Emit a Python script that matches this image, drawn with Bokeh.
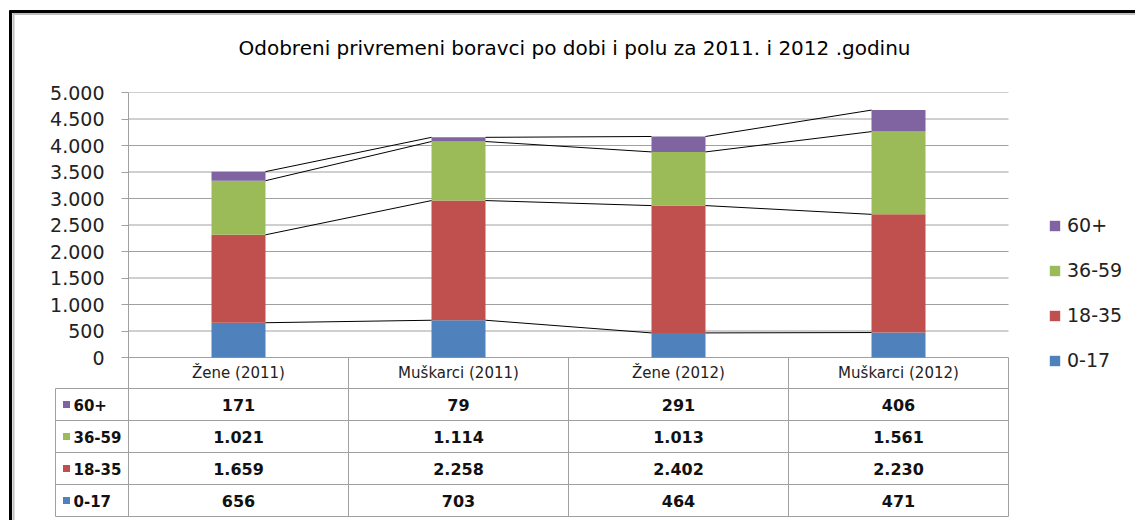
from bokeh.plotting import figure
from bokeh.models import Range1d, FixedTicker, Legend, LegendItem
from bokeh.core.properties import value
from bokeh.embed import file_html
from bokeh.resources import INLINE

# ---------------- data ----------------
categories = ["Žene (2011)", "Muškarci (2011)", "Žene (2012)", "Muškarci (2012)"]
age_groups = ["0-17", "18-35", "36-59", "60+"]
v_0_17 = [656, 703, 464, 471]
v_18_35 = [1659, 2258, 2402, 2230]
v_36_59 = [1021, 1114, 1013, 1561]
v_60 = [171, 79, 291, 406]
y_ticks = [0, 500, 1000, 1500, 2000, 2500, 3000, 3500, 4000, 4500, 5000]
y_tick_labels = ["0", "500", "1.000", "1.500", "2.000", "2.500", "3.000",
                 "3.500", "4.000", "4.500", "5.000"]
colors = ["#4F81BD", "#C0504D", "#9BBB59", "#8064A2"]
title_text = "Odobreni privremeni boravci po dobi i polu za 2011. i 2012 .godinu"

series = [v_0_17, v_18_35, v_36_59, v_60]

# ---------------- layout ----------------
W, H = 1135, 520
CAT_PX = 220
B_LEFT, B_TOP, B_BOTTOM = 128, 92, 4
FRAME_W = W - B_LEFT
FRAME_H = H - B_TOP - B_BOTTOM
X_MIN, X_MAX = 0, FRAME_W / CAT_PX
Y_MIN, Y_MAX = -3000, 5000
FL, FT = B_LEFT, B_TOP  # px of frame left/top


def px2x(px):
    return X_MIN + (px - FL) / FRAME_W * (X_MAX - X_MIN)


def py2y(py):
    return Y_MAX - (py - FT) / FRAME_H * (Y_MAX - Y_MIN)


p = figure(frame_width=FRAME_W, frame_height=FRAME_H,
           min_border_left=B_LEFT, min_border_right=0,
           min_border_top=B_TOP, min_border_bottom=B_BOTTOM,
           x_range=Range1d(X_MIN, X_MAX), y_range=Range1d(Y_MIN, Y_MAX),
           x_axis_location=None, output_backend="svg", toolbar_location=None,
           title=title_text)
p.outline_line_color = None
p.background_fill_color = "white"
p.border_fill_color = "white"

p.title.align = "left"
p.title.offset = 110
p.title.standoff = 66
p.title.text_font = "DejaVu Sans"
p.title.text_font_size = "20px"
p.title.text_font_style = "normal"
p.title.text_color = "#000000"

GRAY = "#A0A0A0"
yax = p.yaxis[0]
yax.ticker = FixedTicker(ticks=y_ticks)
yax.major_label_overrides = {t: l for t, l in zip(y_ticks, y_tick_labels)}
yax.minor_tick_line_color = None
yax.major_tick_in = 0
yax.major_tick_out = 7
yax.major_tick_line_color = GRAY
yax.axis_line_color = GRAY
yax.major_label_standoff = 17
yax.major_label_text_font = "DejaVu Sans"
yax.major_label_text_font_size = "19px"
yax.major_label_text_color = "#222222"
p.xgrid.visible = False
p.ygrid.visible = False

n = len(categories)
# gridlines over the plot area only
p.segment(x0=[0] * len(y_ticks), x1=[n] * len(y_ticks), y0=y_ticks, y1=y_ticks,
          line_color=GRAY, line_width=1, level="underlay")

# ---------------- bars ----------------
xs = [i + 0.5 for i in range(n)]
bar_w = 54 / CAT_PX
data = {"x": xs}
for g, s in zip(age_groups, series):
    data[g] = s
rends = p.vbar_stack(age_groups, x="x", width=bar_w, color=colors,
                     source=data, line_color=None)

# series lines between stacks
cum = []
run = [0] * n
for s in series:
    run = [a + b for a, b in zip(run, s)]
    cum.append(run)
sx0, sx1, sy0, sy1 = [], [], [], []
for c in cum:
    for i in range(n - 1):
        sx0.append(xs[i] + bar_w / 2)
        sx1.append(xs[i + 1] - bar_w / 2)
        sy0.append(c[i])
        sy1.append(c[i + 1])
p.segment(x0=sx0, y0=sy0, x1=sx1, y1=sy1, line_color="#000000", line_width=1)

# ---------------- data table ----------------
def fmt(v):
    return f"{v:,}".replace(",", ".")

TBL_L = 55
hdr_top, hdr_bot = 357, 388
row_h = 32
row_tops = [hdr_bot + k * row_h for k in range(5)]

hy = [py2y(r) for r in row_tops]
p.segment(x0=[px2x(TBL_L)] * len(hy), x1=[n] * len(hy), y0=hy, y1=hy,
          line_color=GRAY, line_width=1, level="overlay")
vx = [i + 1 for i in range(n)]
p.segment(x0=vx, x1=vx, y0=[0] * len(vx), y1=[py2y(row_tops[-1])] * len(vx),
          line_color=GRAY, line_width=1, level="overlay")
p.segment(x0=[px2x(TBL_L)], x1=[px2x(TBL_L)], y0=[py2y(hdr_bot)], y1=[py2y(row_tops[-1])],
          line_color=GRAY, line_width=1, level="overlay")

p.text(x=xs, y=[py2y((hdr_top + hdr_bot) / 2)] * n, text=categories,
       text_font=value("DejaVu Sans"), text_font_size=value("15px"), text_color="#222222",
       text_align="center", text_baseline="middle", level="overlay")

row_order = [3, 2, 1, 0]  # 60+, 36-59, 18-35, 0-17
for k, idx in enumerate(row_order):
    yc = py2y(row_tops[k] + row_h / 2)
    p.text(x=xs, y=[yc] * n, text=[fmt(v) for v in series[idx]],
           text_font=value("DejaVu Sans"), text_font_size=value("16px"),
           text_font_style="bold", text_color="#111111", text_align="center",
           text_baseline="middle", level="overlay")
    # small colour key (a short thick segment forms a square)
    p.segment(x0=[px2x(62.5)], x1=[px2x(69.5)], y0=[yc], y1=[yc],
              line_color=colors[idx], line_width=7, line_cap="butt", level="overlay")
    p.text(x=[px2x(73)], y=[yc], text=[age_groups[idx]],
           text_font=value("DejaVu Sans"), text_font_size=value("15px"),
           text_font_style="bold", text_color="#111111", text_align="left",
           text_baseline="middle", level="overlay")

# ---------------- outer frame ----------------
y_bot_edge = py2y(H)
x_right_edge = px2x(W)
p.segment(x0=[px2x(10)], x1=[px2x(10)], y0=[py2y(10)], y1=[y_bot_edge],
          line_color="#000000", line_width=3, level="overlay")
p.segment(x0=[px2x(13)], x1=[px2x(13)], y0=[py2y(13)], y1=[y_bot_edge],
          line_color="#BFBFBF", line_width=2, level="overlay")
p.segment(x0=[px2x(9)], x1=[x_right_edge], y0=[py2y(11)], y1=[py2y(11)],
          line_color="#000000", line_width=3, level="overlay")
p.segment(x0=[px2x(12)], x1=[x_right_edge], y0=[py2y(13.5)], y1=[py2y(13.5)],
          line_color="#BFBFBF", line_width=2, level="overlay")

# ---------------- legend ----------------
items = [LegendItem(label=age_groups[i], renderers=[rends[i]]) for i in [3, 2, 1, 0]]
legend = Legend(items=items, location=(920, 145), orientation="vertical",
                glyph_width=13, glyph_height=13, label_height=20, spacing=23,
                padding=0, margin=0, border_line_color=None, background_fill_alpha=0,
                label_text_font="DejaVu Sans", label_text_font_size="19px",
                label_text_color="#222222", label_standoff=6)
p.add_layout(legend)

open("out.html", "w").write(file_html(p, INLINE))
